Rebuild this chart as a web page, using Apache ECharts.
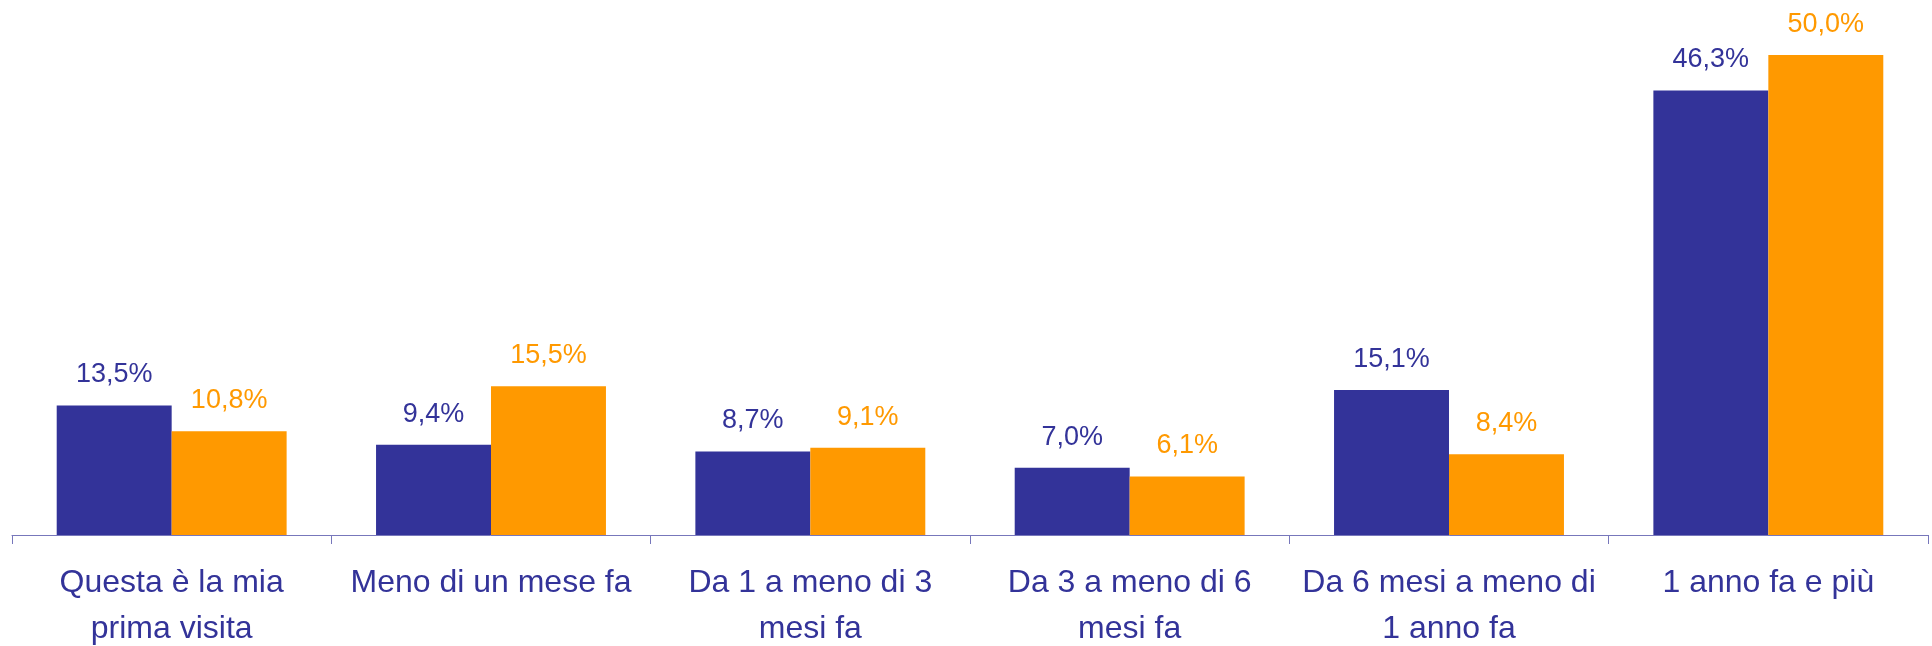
<!DOCTYPE html>
<html>
<head>
<meta charset="utf-8">
<script src="https://cdn.jsdelivr.net/npm/echarts@6/dist/echarts.min.js"></script>
<style>
  html, body { margin: 0; padding: 0; background: #fff; }
  #chart { width: 1932px; height: 646px; }
</style>
</head>
<body>
<div id="chart"></div>
<script>
// categorie (a capo come nell'originale)
const categories = [
  'Questa è la mia\nprima visita',
  'Meno di un mese fa',
  'Da 1 a meno di 3\nmesi fa',
  'Da 3 a meno di 6\nmesi fa',
  'Da 6 mesi a meno di\n1 anno fa',
  '1 anno fa e più'
]
// valori in percentuale
const serieBlu = [13.5, 9.4, 8.7, 7.0, 15.1, 46.3]
const serieArancio = [10.8, 15.5, 9.1, 6.1, 8.4, 50.0]

const BLU = '#333399'
const ARANCIO = '#ff9900'
const FONT = '"Liberation Sans", Arial, sans-serif'

// 13.5 -> "13,5%"
function fmt(p) {
  return p.value.toFixed(1).replace('.', ',') + '%'
}

const chart = echarts.init(document.getElementById('chart'))
chart.setOption({
  animation: false,
  grid: { left: 12, right: 4, top: 55, bottom: 111, containLabel: false, outerBoundsMode: 'none' },
  xAxis: {
    type: 'category',
    data: categories,
    axisLine: { lineStyle: { color: '#7777bb', width: 1 } },
    axisTick: { show: true, length: 9, lineStyle: { color: '#7777bb' } },
    axisLabel: {
      color: BLU,
      fontFamily: FONT,
      fontSize: 32,
      lineHeight: 46,
      margin: 25,
      interval: 0
    }
  },
  yAxis: {
    type: 'value',
    min: 0,
    max: 50,
    show: false
  },
  series: [
    {
      name: 'blu',
      type: 'bar',
      data: serieBlu,
      barGap: '0%',
      barCategoryGap: '28%',
      itemStyle: { color: BLU },
      label: {
        show: true,
        position: 'top',
        distance: 17,
        color: BLU,
        fontFamily: FONT,
        fontSize: 27,
        formatter: fmt
      }
    },
    {
      name: 'arancio',
      type: 'bar',
      data: serieArancio,
      barGap: '0%',
      barCategoryGap: '28%',
      itemStyle: { color: ARANCIO },
      label: {
        show: true,
        position: 'top',
        distance: 17,
        color: ARANCIO,
        fontFamily: FONT,
        fontSize: 27,
        formatter: fmt
      }
    }
  ]
})
</script>
</body>
</html>
